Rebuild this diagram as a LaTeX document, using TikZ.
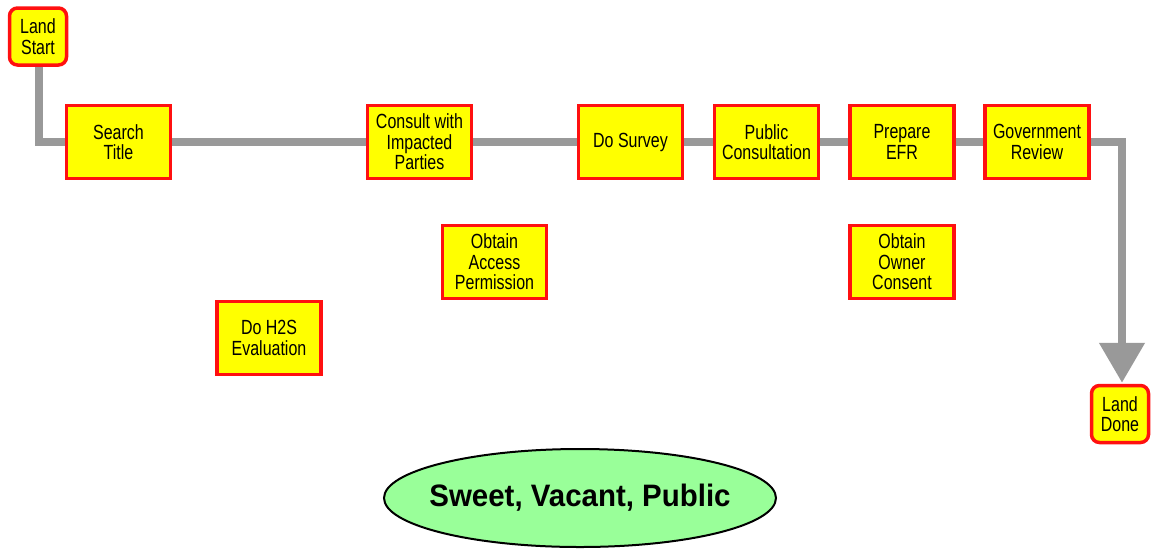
\documentclass[tikz,border=0pt]{standalone}
\usepackage{fontspec}
\setmainfont{Liberation Sans}
\newfontfamily\condfont[FakeStretch=0.78]{Liberation Sans}
\newfontfamily\ovalfont[FakeStretch=0.95]{Liberation Sans}
\usetikzlibrary{arrows.meta,shapes.geometric}
\definecolor{boxfill}{HTML}{FFFF00}
\definecolor{boxline}{HTML}{FF1010}
\definecolor{flowgray}{HTML}{999999}
\definecolor{ovalfill}{HTML}{99FF99}
\begin{document}
\begin{tikzpicture}[x=1pt,y=-1pt,
  task/.style={draw=boxline, line width=3.5pt, fill=boxfill,
    minimum width=104pt, minimum height=73pt, inner sep=1pt,
    align=center, font=\condfont\fontsize{20.5}{20.5}\selectfont},
  terminal/.style={task, rounded corners=8pt, minimum width=57pt, minimum height=57pt},
  flow/.style={draw=flowgray, line width=8pt},
  oval/.style={draw=black, line width=2pt, fill=ovalfill, ellipse,
    inner xsep=-60pt, inner ysep=0pt,
    minimum width=392pt, minimum height=98pt,
    font=\ovalfont\bfseries\fontsize{31}{36}\selectfont}]
\useasboundingbox (0,0) rectangle (1151,550);
% nodes
\node[terminal] (ls) at (38,36.5) {Land\\Start};
\node[task] (st)  at (118.5,142) {Search\\Title};
\node[task] (cip) at (419.5,142) {Consult with\\Impacted\\Parties};
\node[task] (ds)  at (630.5,142) {Do Survey};
\node[task] (pc)  at (766.5,142) {Public\\Consultation};
\node[task] (pe)  at (902,142)   {Prepare\\EFR};
\node[task] (gr)  at (1037,142)  {Government\\Review};
\node[task] (oap) at (494.5,262) {Obtain\\Access\\Permission};
\node[task] (ooc) at (902,262)   {Obtain\\Owner\\Consent};
\node[task] (h2s) at (269,338)   {Do H2S\\Evaluation};
\node[terminal] (ld) at (1120,414) {Land\\Done};
\node[oval] (svp) at (580,498) {Sweet, Vacant, Public};
% main flow
\draw[flow] ([xshift=1pt]ls.south) |- (st.west);
\draw[flow] (st) -- (cip);
\draw[flow] (cip) -- (ds);
\draw[flow] (ds) -- (pc);
\draw[flow] (pc) -- (pe);
\draw[flow] (pe) -- (gr);
\draw[flow, -{Triangle[width=44pt,length=40pt]}, shorten >=1pt]
  (gr.east) -| ([xshift=2pt]ld.north);
\end{tikzpicture}
\end{document}
